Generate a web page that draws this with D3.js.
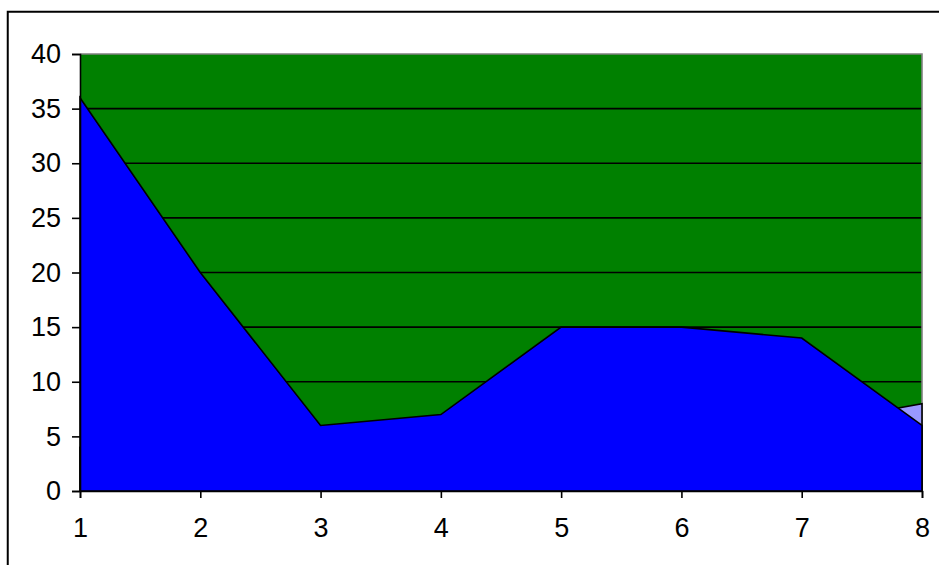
<!DOCTYPE html>
<html>
<head>
<meta charset="utf-8">
<style>
  html, body { margin: 0; padding: 0; background: #fff; }
  svg { display: block; }
</style>
<script src="https://cdn.jsdelivr.net/npm/d3@7"></script>
</head>
<body>
<svg id="chart" width="939" height="565"></svg>
<script>
// Category positions along the x axis
const categories = [1, 2, 3, 4, 5, 6, 7, 8];
// Back series (light purple) and front series (blue)
const seriesBack = [4, 6, 3, 5, 9, 10, 6, 8];
const seriesFront = [36, 20, 6, 7, 15, 15, 14, 6];
// Value axis ticks
const yTicks = [0, 5, 10, 15, 20, 25, 30, 35, 40];

const svg = d3.select("#chart");
const plot = { left: 80, top: 54, right: 922, bottom: 491 };
const FONT = "Liberation Sans, Arial, sans-serif";
const FONT_SIZE = 27;

// Chart area frame (runs off the right and bottom edges)
svg.append("rect")
  .attr("x", 7.75).attr("y", 11.75)
  .attr("width", 1000).attr("height", 1000)
  .attr("fill", "#fff").attr("stroke", "#000").attr("stroke-width", 2);

const x = d3.scaleLinear().domain([1, 8]).range([plot.left, plot.right]);
const y = d3.scaleLinear().domain([0, 40]).range([plot.bottom, plot.top]);

// Plot area background
svg.append("rect")
  .attr("x", plot.left).attr("y", plot.top)
  .attr("width", plot.right - plot.left).attr("height", plot.bottom - plot.top)
  .attr("fill", "#008000");

// Horizontal gridlines
svg.append("g").selectAll("line")
  .data(yTicks.filter(d => d > 0 && d < 40))
  .join("line")
  .attr("x1", plot.left).attr("x2", plot.right)
  .attr("y1", d => y(d)).attr("y2", d => y(d))
  .attr("stroke", "#000").attr("stroke-width", 1.6);

// Plot area border on top and right
svg.append("path")
  .attr("d", `M${plot.left},${plot.top}H${plot.right}V${plot.bottom}`)
  .attr("fill", "none").attr("stroke", "#808080").attr("stroke-width", 1.6);

const area = d3.area()
  .x((d, i) => x(categories[i]))
  .y0(y(0))
  .y1(d => y(d));

function drawSeries(values, color) {
  svg.append("path")
    .datum(values)
    .attr("d", d => area(d) + "Z")
    .attr("fill", color)
    .attr("stroke", "#000")
    .attr("stroke-width", 1.6)
    .attr("stroke-linejoin", "miter");
}
drawSeries(seriesBack, "#9999FF");
drawSeries(seriesFront, "#0000FF");

// Value axis
const yAxis = d3.axisLeft(y).tickValues(yTicks).tickSize(8).tickPadding(11);
const gy = svg.append("g").attr("transform", `translate(${plot.left},0)`).call(yAxis);
gy.select(".domain").attr("stroke-width", 1.6);
gy.selectAll(".tick line").attr("stroke-width", 1.6);
gy.selectAll("text")
  .attr("fill", "#000")
  .style("font-family", FONT)
  .style("font-size", FONT_SIZE + "px");

// Category axis
const xAxis = d3.axisBottom(x).tickValues(categories).tickFormat(d3.format("d")).tickSize(7).tickPadding(20);
const gx = svg.append("g").attr("transform", `translate(0,${plot.bottom})`).call(xAxis);
gx.select(".domain").attr("stroke-width", 1.6);
gx.selectAll(".tick line").attr("stroke-width", 1.6);
gx.selectAll("text")
  .attr("fill", "#000")
  .style("font-family", FONT)
  .style("font-size", FONT_SIZE + "px");

svg.selectAll(".domain").attr("stroke", "#000");
</script>
</body>
</html>
